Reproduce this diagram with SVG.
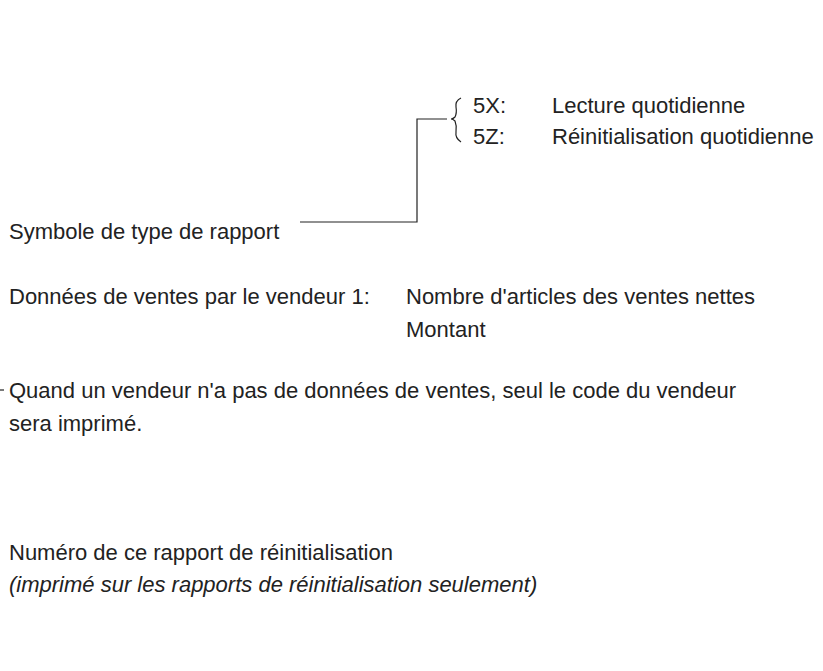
<svg xmlns="http://www.w3.org/2000/svg" width="823" height="671" viewBox="0 0 823 671">
<style>
text{font-family:"Liberation Sans",Arial,sans-serif;font-size:22px;fill:#222}
.l{fill:none;stroke:#222;stroke-width:1.2}
</style>
<rect width="823" height="671" fill="#fff"/>
<g id="connectors">
<path class="l" d="M300 222H417V119H447"/>
<path class="l" d="M461 98q-6 3-5 9t-1 10q-2 2-4 2q2 0 4 2q2 5 1 11t5 10"/>
<path class="l" d="M0 390H4"/>
</g>
<g id="legend-type">
<text x="473" y="113">5X:</text><text x="552" y="113">Lecture quotidienne</text>
<text x="473" y="144">5Z:</text><text x="552" y="144">Réinitialisation quotidienne</text>
</g>
<g id="symbole"><text x="9" y="239">Symbole de type de rapport</text></g>
<g id="donnees">
<text x="9" y="304">Données de ventes par le vendeur 1:</text>
<text x="406" y="304">Nombre d'articles des ventes nettes</text>
<text x="406" y="337">Montant</text>
</g>
<g id="quand">
<text x="9" y="398">Quand un vendeur n'a pas de données de ventes, seul le code du vendeur</text>
<text x="9" y="431">sera imprimé.</text>
</g>
<g id="numero">
<text x="9" y="560">Numéro de ce rapport de réinitialisation</text>
<text x="9" y="592" font-style="italic">(imprimé sur les rapports de réinitialisation seulement)</text>
</g>
</svg>
